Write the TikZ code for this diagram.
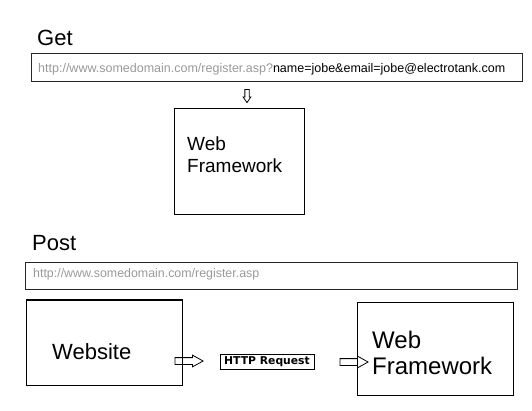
\documentclass[tikz,border=0pt]{standalone}
\usepackage{fontspec}
\setmainfont{Liberation Sans}
\newfontfamily\reqfont{DejaVu Sans}
\usetikzlibrary{shapes.arrows}
\definecolor{urlgray}{HTML}{999999}
\begin{document}
\begin{tikzpicture}[x=1pt,y=-1pt,line join=miter,
	head/.style={anchor=base west,inner sep=0pt,font=\fontsize{22}{26}\selectfont},
	urlbox/.style={draw=black!85,line width=1pt,anchor=north west,inner sep=0pt,minimum height=28pt},
	url/.style={anchor=base west,inner sep=0pt,font=\fontsize{12.5}{15}\selectfont},
	box/.style={draw,line width=1pt,anchor=north west,inner sep=0pt},
	boxtxt/.style={anchor=base west,align=left,inner sep=0pt},
	hollow/.style={single arrow,draw,line width=0.8pt,inner sep=3pt,minimum height=28pt,minimum width=11pt,single arrow head extend=2.5pt,single arrow tip angle=58}]
	\useasboundingbox (0,0) rectangle (532,410);
	\node[head] (get) at (37,45) {Get};
	\node[urlbox,minimum width=491pt] (geturl) at (31,53) {};
	\node[url] (getaddr) at (38,72) {\textcolor{urlgray}{http://www.somedomain.com/register.asp?}name=jobe\&email=jobe@electrotank.com};
	\node[hollow,inner sep=1.75pt,minimum height=13pt,minimum width=7pt,single arrow head extend=1.75pt,single arrow tip angle=70,shape border rotate=270] (down) at (247,94.5) {};
	\node[box,minimum width=130pt,minimum height=106pt] (fwget) at (174,108) {};
	\node[boxtxt,font=\fontsize{19}{22}\selectfont] (fwgettxt) at (187,172) {Web\\Framework};
	\node[head] (post) at (32,250) {Post};
	\node[urlbox,minimum width=492pt,minimum height=27pt] (posturl) at (25,262) {};
	\node[url,text=urlgray,font=\fontsize{12.4}{15}\selectfont] (postaddr) at (33,277) {http://www.somedomain.com/register.asp};
	\node[box,minimum width=156pt,minimum height=85pt] (site) at (26,300) {};
	\draw[line width=2pt] (site.north west) -- (site.north east);
	\node[boxtxt,font=\fontsize{22}{26}\selectfont] (sitetxt) at (52,359) {Website};
	\node[hollow] (toreq) at (186,361) {};
	\node[draw,line width=1pt,inner sep=1pt,minimum width=94pt,minimum height=15pt,font=\reqfont\bfseries\fontsize{10.8}{12}\selectfont] (req) at (267,361.5) {HTTP Request};
	\node[hollow] (tofw) at (351,362) {};
	\node[box,minimum width=156pt,minimum height=93pt] (fwpost) at (357,302) {};
	\node[boxtxt,font=\fontsize{24}{26}\selectfont] (fwposttxt) at (372,374) {Web\\Framework};
\end{tikzpicture}
\end{document}
